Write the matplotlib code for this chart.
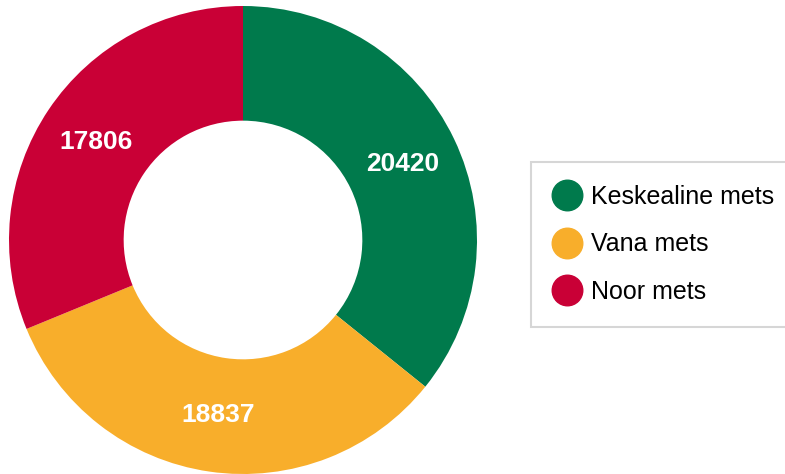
import matplotlib
matplotlib.use("Agg")
import matplotlib.pyplot as plt
from matplotlib.lines import Line2D
import numpy as np

# andmed
kategooriad = ['Keskealine mets', 'Vana mets', 'Noor mets']
vaartused = [20420, 18837, 17806]
varvid = ['#007A4C', '#F8AE2B', '#C90036']

plt.rcParams['font.family'] = ['Liberation Sans', 'DejaVu Sans']

fig = plt.figure(figsize=(7.85, 4.74), dpi=100)
W, H = 785, 474
cx, cy, r = 243, 240, 234
ax = fig.add_axes([(cx - r) / W, (H - cy - r) / H, 2 * r / W, 2 * r / H])

wedges, _ = ax.pie(vaartused, colors=varvid, startangle=90, counterclock=False,
                   radius=1, wedgeprops=dict(width=0.49, linewidth=0))
ax.set_xlim(-1, 1)
ax.set_ylim(-1, 1)
ax.set_aspect('equal')
ax.axis('off')

# sildid ringi keskele
for w, v in zip(wedges, vaartused):
    ang = np.deg2rad((w.theta1 + w.theta2) / 2)
    rr = 0.755
    ax.text(rr * np.cos(ang), rr * np.sin(ang), str(v), color='white',
            fontsize=19, fontweight='bold', ha='center', va='center')

handles = [Line2D([], [], marker='o', linestyle='', markersize=22,
                  markerfacecolor=c, markeredgecolor=c) for c in varvid]
leg = fig.legend(handles, kategooriad, loc='upper left',
                 bbox_to_anchor=(531 / W, 1 - 162 / H), borderaxespad=0,
                 fontsize=18, frameon=True, fancybox=False, labelspacing=0.95,
                 handletextpad=0.4, handlelength=1.1, borderpad=0.9)
leg.get_frame().set_edgecolor('#cccccc')
leg.get_frame().set_linewidth(1.5)

fig.savefig('out.png', dpi=100, facecolor='white')
